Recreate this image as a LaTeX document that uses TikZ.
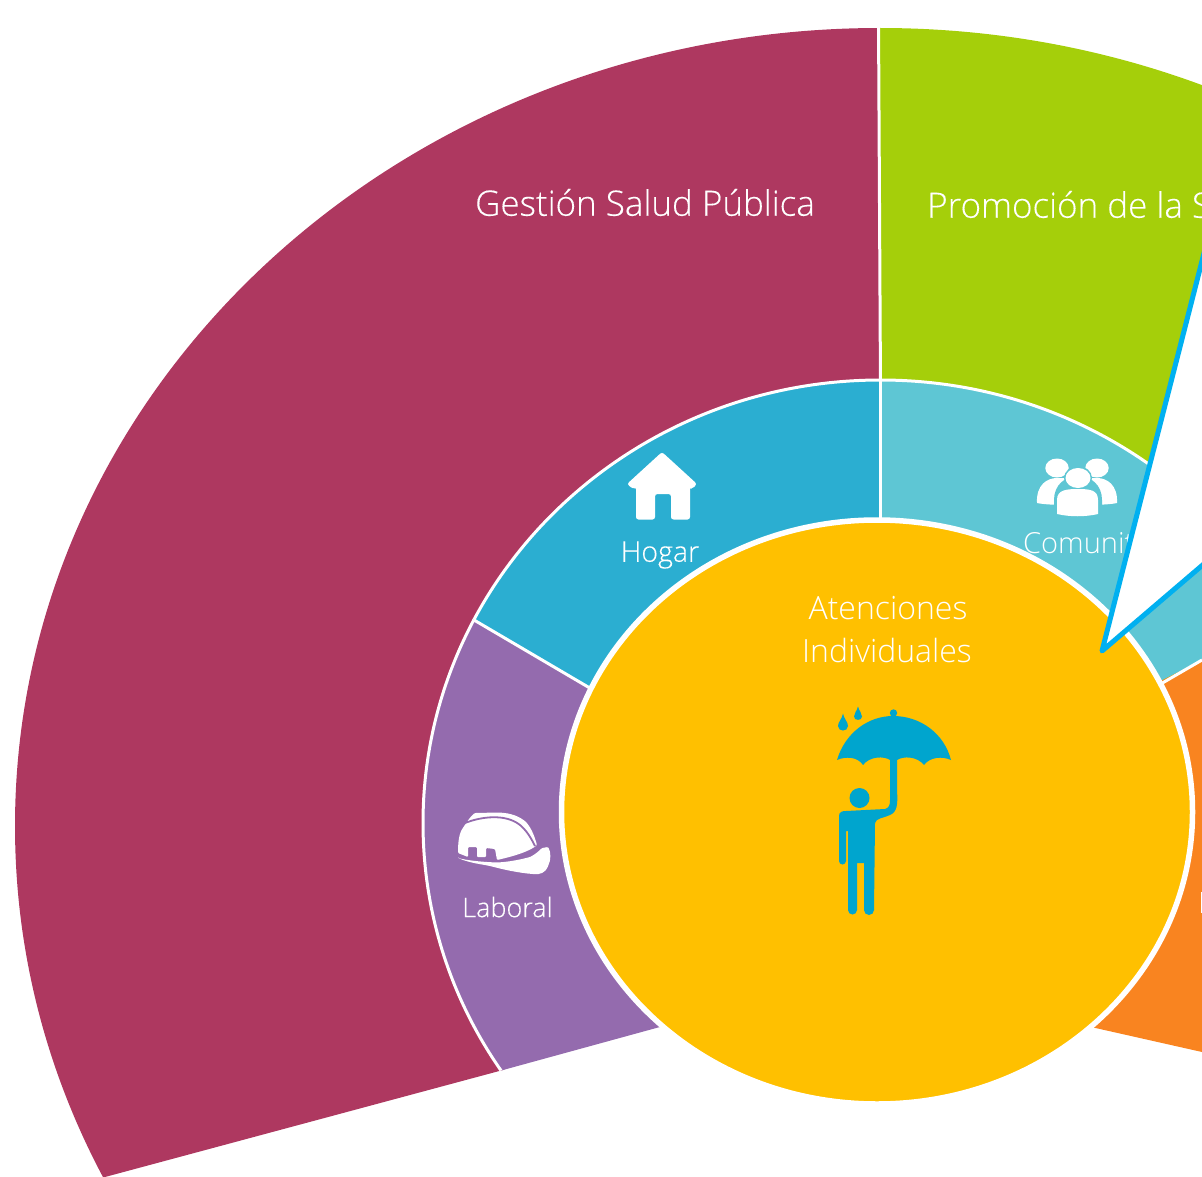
\documentclass[tikz,border=0pt]{standalone}
\usepackage{fontspec}
\setmainfont{Open Sans Light}
\newfontfamily\semi[FakeBold=0.25]{Open Sans Light}
\definecolor{maroon}{HTML}{AE3860}
\definecolor{lime}{HTML}{A5CF0A}
\definecolor{hogarblue}{HTML}{2BAED1}
\definecolor{comblue}{HTML}{5EC6D4}
\definecolor{lab}{HTML}{946BAE}
\definecolor{amber}{HTML}{FFC000}
\definecolor{orng}{HTML}{F98420}
\definecolor{iconblue}{HTML}{00A5CE}
\definecolor{callout}{HTML}{00B0F0}
\tikzset{
 x=1pt,y=-1pt,
 lbl/.style={text=white,inner sep=0pt,anchor=center},
 seam/.style={draw=white,line width=3pt},
}
\newcommand{\outerE}{(880,826) ellipse [x radius=865,y radius=798]}
\newcommand{\ringE}{(880.5,823) ellipse [x radius=457.5,y radius=443]}
\begin{document}
\begin{tikzpicture}
\useasboundingbox (0,0) rectangle (1202,1177);
\clip (0,0) rectangle (1202,1177);
% outer sectors
\begin{scope}
 \clip (879,0) -- (881,900) -- (503,1070) -- (105,1177) -- (60,1189) -- (0,1189) -- (0,0) -- cycle;
 \fill[maroon] \outerE;
\end{scope}
\begin{scope}
 \clip (879,0) -- (1202,0) -- (1202,900) -- (881,900) -- cycle;
 \fill[lime] \outerE;
\end{scope}
\draw[white,line width=3pt] (878.5,20) -- (880.5,390);
% ring sectors
\begin{scope}
 \clip (880,370) -- (1202,370) -- (1202,660) -- (880,823) -- cycle;
 \fill[comblue] \ringE;
 \draw[seam] \ringE;
\end{scope}
\begin{scope}
 \clip (880,370) -- (880,850) -- (590,688) -- (474,620) -- (400,577) -- (400,370) -- cycle;
 \fill[hogarblue] \ringE;
 \draw[seam] \ringE;
\end{scope}
\begin{scope}
 \clip (400,577) -- (880,855) -- (700,1016) -- (503,1070) -- (400,1098) -- cycle;
 \fill[lab] \ringE;
 \draw[seam] \ringE;
\end{scope}
\draw[seam] (880,380) -- (880,530);
\draw[seam] (474,620) -- (600,694);
% orange sector
\fill[orng] (1120,702) -- (1202,660) -- (1202,1052) -- (1060,1020) -- cycle;
\draw[seam] (1140,696) -- (1202,660);
\fill[white] (1200.6,892) rectangle (1202,913);
% centre
\fill[amber,draw=white,line width=5.5pt] (877,812) ellipse [x radius=315.5,y radius=292];
% texts
\node[lbl,font=\semi\fontsize{35}{35}\selectfont] (gestion) at (645,202.5) {Gestión Salud Pública};
\node[lbl,anchor=west,font=\semi\fontsize{35}{35}\selectfont] (promo) at (927,204.5) {Promoción de la S};
\node[lbl,font=\semi\fontsize{28.5}{28.5}\selectfont] (hogar) at (660,555) {Hogar};
\node[lbl,font=\semi\fontsize{27}{27}\selectfont] (laboral) at (507.5,907) {Laboral};
\node[lbl,anchor=west,font=\fontsize{29}{29}\selectfont] (comunit) at (1023,543) {Comunit};
\node[lbl,font=\fontsize{32}{32}\selectfont] (aten) at (888,608) {Atenciones};
\node[lbl,font=\fontsize{32}{32}\selectfont] (indiv) at (887,650) {Individuales};
% callout
\fill[white,draw=callout,line width=5pt,line join=round] (1102,651) -- (1212,222) -- (1212,557) -- cycle;
% umbrella figure
\begin{scope}[iconblue]
 \fill (837,760) .. controls (845,733) and (868,716) .. (893,716) .. controls (920,716) and (944,733) .. (951,760)
  .. controls (942,756) and (930,757) .. (924,765) .. controls (917,756) and (903,756) .. (897,760)
  -- (897,790) .. controls (898,805) and (897,812) .. (890,815) .. controls (884,818) and (876,818) .. (875,823)
  -- (874,910) -- (864,910) -- (864,863) -- (857,863) -- (857,910) -- (848,910) -- (848,831) -- (846,831) -- (846,861) -- (839,861) -- (839,816) .. controls (839,812) and (842,811) .. (846,811)
  -- (885,809) .. controls (889,808) and (890,805) .. (890,800) -- (890,760)
  .. controls (884,756) and (870,756) .. (863,765) .. controls (858,757) and (846,756) .. (837,760) -- cycle;
 \fill (893.5,713) circle [radius=3.7];
 \fill (859.5,798) circle [radius=10];
 \fill (852.5,910) circle [radius=4.5];
 \fill (869,910) circle [radius=5];
 \fill (842.5,861) circle [radius=3.5];
 \fill (843,713.5) .. controls (842,719) and (838,722) .. (838,726) .. controls (838,732) and (848,732) .. (848,726) .. controls (848,722) and (844,719) .. (843,713.5) -- cycle;
 \fill (858,706.5) .. controls (857,711) and (854,713) .. (854,716.5) .. controls (854,721) and (862,721) .. (862,716.5) .. controls (862,713) and (859,711) .. (858,706.5) -- cycle;
\end{scope}
% house
\fill[white,rounded corners=2.5pt] (662,452) -- (697,484) -- (692,489) -- (690,487) -- (690,519.5) -- (671,519.5) -- (671,494) -- (655,494) -- (655,519.5) -- (636,519.5) -- (636,487) -- (633,489) -- (627,484) -- cycle;
% helmet
\fill[white,rounded corners=1pt] (458,853) .. controls (458,838) and (460,831) .. (465,825) .. controls (468,820) and (472,815) .. (475,813) -- (498,812.5) .. controls (512,813) and (520,817) .. (526,822) .. controls (532,829) and (535,838) .. (537,845) .. controls (530,851) and (515,856) .. (497,860) -- (495,849) -- (486,848) -- (486,857) -- (477,857) -- (477,847) -- (468,847) -- (468,857) -- cycle;
\draw[lab,line width=1.8pt] (465,823) .. controls (480,817) and (505,813) .. (520,825) .. controls (527,831) and (531,838) .. (535,846);
\fill[white,rounded corners=1pt] (458,858) .. controls (470,863) and (480,864) .. (490,866) .. controls (505,870) and (520,873) .. (533,874) .. controls (540,875) and (546,872) .. (548,866) .. controls (551,860) and (551,852) .. (548,847) -- (542,848) .. controls (538,852) and (534,855) .. (530,857) .. controls (515,861) and (505,862) .. (497,862.5) .. controls (485,862) and (470,861) .. (458,858) -- cycle;
% people
\begin{scope}[white]
 \fill (1057,468) ellipse [x radius=11.7,y radius=9.5];
 \fill (1097,468) ellipse [x radius=11.7,y radius=9.5];
 \fill (1037,503) .. controls (1036,485) and (1047,478) .. (1057,478) -- (1097,478) .. controls (1107,478) and (1118,485) .. (1117,503) .. controls (1105,506) and (1049,506) .. (1037,503) -- cycle;
 \fill[comblue] (1054,517) -- (1054,500) .. controls (1054,485) and (1065,476) .. (1078,476) .. controls (1091,476) and (1102,485) .. (1102,500) -- (1102,517) -- cycle;
 \fill[comblue] (1078,478) ellipse [x radius=14,y radius=12];
 \fill (1078,478) ellipse [x radius=12.5,y radius=10];
 \fill (1057,514) -- (1057,500) .. controls (1057,490) and (1066,489) .. (1078,489) .. controls (1090,489) and (1098,490) .. (1098,500) -- (1098,514) .. controls (1085,517) and (1070,517) .. (1057,514) -- cycle;
\end{scope}
\end{tikzpicture}
\end{document}
